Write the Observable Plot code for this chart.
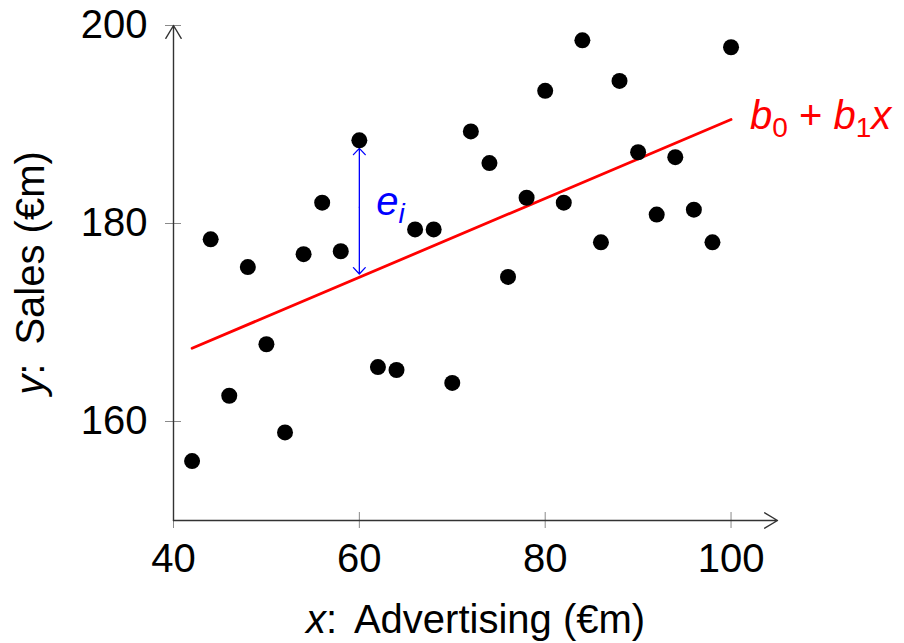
<!DOCTYPE html>
<html>
<head>
<meta charset="utf-8">
<script src="https://cdn.jsdelivr.net/npm/d3@7"></script>
<script src="https://cdn.jsdelivr.net/npm/@observablehq/plot@0.6"></script>
<style>
  body { margin: 0; background: #ffffff; }
  #chart svg { display: block; }
</style>
</head>
<body>
<div id="chart"></div>
<script>
// ---- data ----
const advertising = [42, 44, 46, 48, 50, 52, 54, 56, 58, 60, 62, 64, 66, 68, 70,
                     72, 74, 76, 78, 80, 82, 84, 86, 88, 90, 92, 94, 96, 98, 100];
const sales = [156.0, 178.4, 162.6, 175.6, 167.8, 158.9, 176.9, 182.1, 177.2, 188.4,
               165.5, 165.2, 179.4, 179.4, 163.9, 189.3, 186.1, 174.6, 182.6, 193.4,
               182.1, 198.5, 178.1, 194.4, 187.2, 180.9, 186.7, 181.4, 178.1, 197.8];
const fitX = [42, 100];
const fitY = [167.4, 190.5];
const residualX = [60];
const residualFrom = [174.9];   // value on the fitted line
const residualTo = [188.4];     // observed value
const xTicks = [40, 60, 80, 100];
const yTicks = [160, 180, 200];
const xDomain = [40, 105];
const yDomain = [150, 200];
const xLabel = "x: Advertising (€m)";
const yLabel = "y: Sales (€m)";
const fitLabel = "b0 + b1x";
const residualLabel = "ei";

// ---- derived tables ----
const points = advertising.map((x, i) => ({x, y: sales[i]}));
const fitLine = fitX.map((x, i) => ({x, y: fitY[i]}));
const fitEnd = [fitLine[fitLine.length - 1]];
const residuals = residualX.map((x, i) => ({
  x, from: residualFrom[i], to: residualTo[i], mid: (residualFrom[i] + residualTo[i]) / 2
}));
const axesLines = [
  {x1: xDomain[0], y1: yDomain[0], x2: xDomain[1], y2: yDomain[0]},
  {x1: xDomain[0], y1: yDomain[0], x2: xDomain[0], y2: yDomain[1]}
];

const FONT = "'Liberation Sans', Arial, sans-serif";

const chart = Plot.plot({
  width: 904,
  height: 643,
  marginLeft: 173,
  marginRight: 127,
  marginTop: 25,
  marginBottom: 123,
  x: {domain: xDomain},
  y: {domain: yDomain},
  style: {fontFamily: FONT, fontSize: "40px", background: "#ffffff", color: "#000000", overflow: "visible"},
  marks: [
    Plot.ruleX(xTicks, {x: d => d, y1: yDomain[0], y2: yDomain[0], insetTop: -8, insetBottom: -8, stroke: "#8a8a8a", strokeWidth: 1}),
    Plot.ruleY(yTicks, {y: d => d, x1: xDomain[0], x2: xDomain[0], insetLeft: -8, insetRight: -8, stroke: "#8a8a8a", strokeWidth: 1}),
    Plot.arrow(axesLines, {x1: "x1", y1: "y1", x2: "x2", y2: "y2", stroke: "#333333", strokeWidth: 1.4, headLength: 16, headAngle: 62}),
    Plot.axisX({ticks: xTicks, tickSize: 0, tickPadding: 23, fontSize: 40, label: xLabel, labelAnchor: "center", labelOffset: 112, labelArrow: "none"}),
    Plot.axisY({ticks: yTicks, tickSize: 0, tickPadding: 26, fontSize: 40, label: yLabel, labelAnchor: "center", labelOffset: 158, labelArrow: "none"}),
    Plot.line(fitLine, {x: "x", y: "y", stroke: "#ff0000", strokeWidth: 2.8}),
    Plot.arrow(residuals, {x1: "x", y1: "mid", x2: "x", y2: "to", insetEnd: 8, stroke: "#0000ff", strokeWidth: 1.3, headLength: 10, headAngle: 86}),
    Plot.arrow(residuals, {x1: "x", y1: "mid", x2: "x", y2: "from", stroke: "#0000ff", strokeWidth: 1.3, headLength: 10, headAngle: 86}),
    Plot.dot(points, {x: "x", y: "y", r: 8, fill: "#000000", stroke: null}),
    Plot.text(fitEnd, {x: "x", y: "y", text: () => fitLabel, textAnchor: "start", dx: 19, dy: -3, fill: "#ff0000", fontSize: 40}),
    Plot.text(residuals, {x: "x", y: "mid", text: () => residualLabel, textAnchor: "start", dx: 17, dy: -5, fill: "#0000ff", fontSize: 40})
  ]
});

// Rich text (italic variables, subscripts) built on the library's own text elements
function rich(svg, content, parts) {
  d3.select(svg).selectAll("text")
    .filter(function () { return this.textContent.trim() === content; })
    .each(function () {
      const t = d3.select(this);
      t.text(null);
      let shift = 0;
      parts.forEach(p => {
        const s = t.append("tspan").text(p.t);
        if (p.i) s.attr("font-style", "italic");
        const target = p.sub ? p.sub : 0;
        const d = target - shift;
        if (d) s.attr("dy", d);
        shift = target;
        if (p.sub) s.attr("font-size", p.fs || 28);
      });
    });
}
rich(chart, fitLabel, [
  {t: "b", i: true}, {t: "0", sub: 8}, {t: " + "}, {t: "b", i: true}, {t: "1", sub: 8}, {t: "x", i: true}
]);
rich(chart, residualLabel, [{t: "e", i: true}, {t: "i", i: true, sub: 8}]);
rich(chart, xLabel, [{t: "x", i: true}, {t: ":\u2009 Advertising (€m)"}]);
rich(chart, yLabel, [{t: "y", i: true}, {t: ":\u2009 Sales (€m)"}]);

document.getElementById("chart").appendChild(chart);
</script>
</body>
</html>
